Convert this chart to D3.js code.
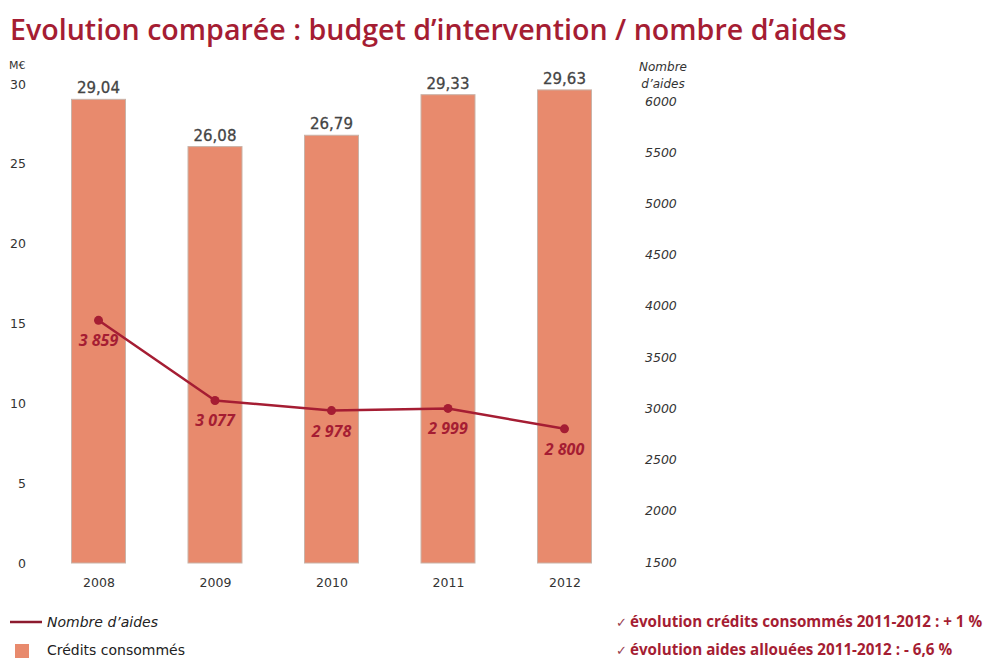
<!DOCTYPE html>
<html>
<head>
<meta charset="utf-8">
<script src="https://cdn.jsdelivr.net/npm/d3@7"></script>
<style>
  html, body { margin: 0; padding: 0; background: #ffffff; }
  svg { display: block; }
</style>
</head>
<body>
<svg id="chart" width="987" height="658"></svg>
<script>
// Data
const years = ["2008", "2009", "2010", "2011", "2012"];
const credits = [29.04, 26.08, 26.79, 29.33, 29.63];          // M€
const creditLabels = ["29,04", "26,08", "26,79", "29,33", "29,63"];
const aides = [3859, 3077, 2978, 2999, 2800];                  // nombre d'aides
const aideLabels = ["3 859", "3 077", "2 978", "2 999", "2 800"];
const leftTicks = [0, 5, 10, 15, 20, 25, 30];
const rightTicks = [1500, 2000, 2500, 3000, 3500, 4000, 4500, 5000, 5500, 6000];
const notes = [
  "évolution crédits consommés 2011-2012 : + 1 %",
  "évolution aides allouées 2011-2012 : - 6,6 %"
];

const svg = d3.select("#chart");
const RED = "#a51d33";
const BAR = "#e88a6d";
const TXT = "#333333";

// Scales
const x = d3.scalePoint().domain(years).range([98.5, 564.5]);
const barW = 54;
const yL = d3.scaleLinear().domain([0, 30]).range([563, 84]);
const yR = d3.scaleLinear().domain([1500, 6000]).range([562, 101]);

// Title
svg.append("text")
  .attr("x", 10).attr("y", 40)
  .attr("font-family", "'Open Sans', sans-serif")
  .attr("font-weight", 600)
  .attr("font-size", 28.6)
  .attr("fill", RED)
  .text("Evolution comparée : budget d’intervention / nombre d’aides");

// Left axis
const leftAxis = d3.axisLeft(yL).tickValues(leftTicks).tickSize(0).tickPadding(0)
  .tickFormat(d3.format("d"));
const gL = svg.append("g").attr("transform", "translate(26,0)").call(leftAxis);
gL.select(".domain").remove();
gL.selectAll("text")
  .attr("font-family", "'DejaVu Sans', sans-serif")
  .attr("font-size", 12.5)
  .attr("fill", TXT);
svg.append("text")
  .attr("x", 9).attr("y", 69)
  .attr("font-family", "'DejaVu Sans', sans-serif")
  .attr("font-size", 11)
  .attr("fill", TXT)
  .text("M€");

// Right axis
const rightAxis = d3.axisRight(yR).tickValues(rightTicks).tickSize(0).tickPadding(0)
  .tickFormat(d3.format("d"));
const gR = svg.append("g").attr("transform", "translate(645,0)").call(rightAxis);
gR.select(".domain").remove();
gR.selectAll("text")
  .attr("font-family", "'DejaVu Sans', sans-serif")
  .attr("font-style", "italic")
  .attr("font-size", 12.5)
  .attr("fill", TXT);
const rTitle = svg.append("text")
  .attr("font-family", "'DejaVu Sans', sans-serif")
  .attr("font-style", "italic")
  .attr("font-size", 12)
  .attr("fill", TXT)
  .attr("text-anchor", "middle");
rTitle.append("tspan").attr("x", 663).attr("y", 71).text("Nombre");
rTitle.append("tspan").attr("x", 663).attr("y", 88).text("d’aides");

// Bars
svg.append("g").selectAll("rect")
  .data(credits)
  .join("rect")
  .attr("x", (d, i) => x(years[i]) - barW / 2)
  .attr("y", d => yL(d))
  .attr("width", barW)
  .attr("height", d => yL(0) - yL(d))
  .attr("fill", BAR)
  .attr("stroke", "#c9b3a8")
  .attr("stroke-width", 1);

// Bar value labels
svg.append("g").selectAll("text")
  .data(credits)
  .join("text")
  .attr("x", (d, i) => x(years[i]))
  .attr("y", d => yL(d) - 6)
  .attr("text-anchor", "middle")
  .attr("font-family", "'DejaVu Sans', sans-serif")
  .attr("font-size", 15)
  .attr("stroke", "#444")
  .attr("stroke-width", 0.3)
  .attr("fill", "#444")
  .text((d, i) => creditLabels[i]);

// Year labels
const xAxis = d3.axisBottom(x).tickSize(0).tickPadding(0);
const gX = svg.append("g").attr("transform", "translate(0,578)").call(xAxis);
gX.select(".domain").remove();
gX.selectAll("text")
  .attr("font-family", "'DejaVu Sans', sans-serif")
  .attr("font-size", 12.5)
  .attr("fill", TXT);

// Line: nombre d'aides
const line = d3.line()
  .x((d, i) => x(years[i]))
  .y(d => yR(d));
svg.append("path")
  .datum(aides)
  .attr("d", line)
  .attr("fill", "none")
  .attr("stroke", RED)
  .attr("stroke-width", 2.5)
  .attr("stroke-linejoin", "round");
svg.append("g").selectAll("circle")
  .data(aides)
  .join("circle")
  .attr("cx", (d, i) => x(years[i]))
  .attr("cy", d => yR(d))
  .attr("r", 4.5)
  .attr("fill", RED);
svg.append("g").selectAll("text")
  .data(aides)
  .join("text")
  .attr("x", (d, i) => x(years[i]))
  .attr("y", d => yR(d) + 26)
  .attr("text-anchor", "middle")
  .attr("font-family", "'Open Sans', sans-serif")
  .attr("font-style", "italic")
  .attr("font-weight", 700)
  .attr("font-size", 16)
  .attr("fill", RED)
  .text((d, i) => aideLabels[i]);

// Legend
svg.append("line")
  .attr("x1", 10).attr("x2", 42).attr("y1", 622).attr("y2", 622)
  .attr("stroke", "#8c1a2e").attr("stroke-width", 2.5);
svg.append("text")
  .attr("x", 47).attr("y", 627)
  .attr("font-family", "'DejaVu Sans', sans-serif")
  .attr("font-style", "italic")
  .attr("font-size", 14)
  .attr("fill", "#222")
  .text("Nombre d’aides");
svg.append("rect")
  .attr("x", 15).attr("y", 644).attr("width", 14).attr("height", 14)
  .attr("fill", BAR);
svg.append("text")
  .attr("x", 47).attr("y", 655)
  .attr("font-family", "'DejaVu Sans', sans-serif")
  .attr("font-size", 14)
  .attr("fill", "#222")
  .text("Crédits consommés");

// Notes
const noteG = svg.append("g").selectAll("text")
  .data(notes)
  .join("text")
  .attr("x", 616)
  .attr("y", (d, i) => 627 + i * 28)
  .attr("font-family", "'Open Sans', sans-serif")
  .attr("font-weight", 700)
  .attr("font-size", 15.2)
  .attr("fill", RED);
noteG.append("tspan").attr("fill", "#9a4050").attr("font-size", 13).attr("font-weight", 400).text("✓");
noteG.append("tspan").attr("dx", 3).text(d => d);
</script>
</body>
</html>
